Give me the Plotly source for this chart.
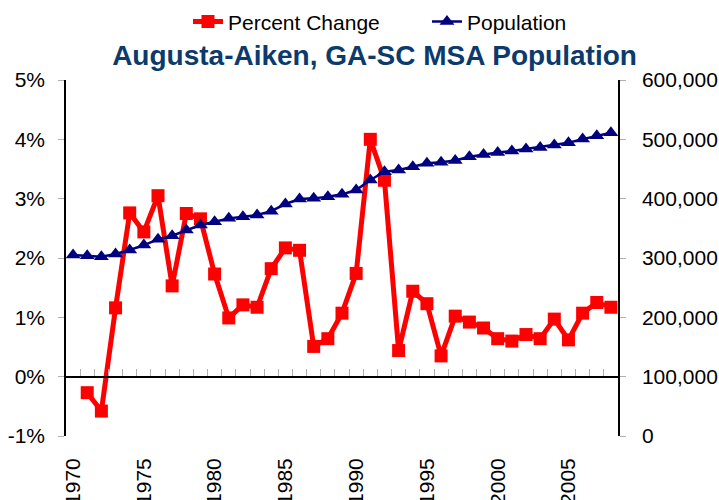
import plotly.graph_objects as go

years = list(range(1970, 2009))
pct_years = list(range(1971, 2009))
percent_change = [-0.27, -0.58, 1.16, 2.76, 2.44, 3.05, 1.53, 2.75, 2.66, 1.73,
                  0.99, 1.21, 1.17, 1.82, 2.17, 2.13, 0.51, 0.64, 1.07, 1.74,
                  4.00, 3.31, 0.44, 1.44, 1.23, 0.35, 1.02, 0.92, 0.82, 0.64,
                  0.60, 0.71, 0.64, 0.97, 0.62, 1.07, 1.25, 1.17]
population = [305000, 303800, 302100, 306700, 313400, 321800, 331400, 337500, 347100, 355500,
              361100, 366800, 369500, 372400, 379000, 391000, 399300, 400500, 403200, 407300,
              414500, 431400, 445400, 448200, 453800, 459500, 461200, 464500, 470600, 474600,
              478000, 480200, 483600, 486400, 490300, 494200, 500400, 506000, 511000]
left_ticks = [-1, 0, 1, 2, 3, 4, 5]
left_labels = ["-1%", "0%", "1%", "2%", "3%", "4%", "5%"]
label_years = [1970, 1975, 1980, 1985, 1990, 1995, 2000, 2005]
label_text = ["1970", "1975", "1980", "1985", "1990", "1995", "2000", "2005"]

FONT = "Liberation Sans, Arial, sans-serif"

fig = go.Figure()
fig.add_trace(go.Scatter(
    x=pct_years, y=percent_change, name="Percent Change", mode="lines+markers",
    line=dict(color="#ff0000", width=5),
    marker=dict(symbol="square", size=13, color="#ff0000"),
    xaxis="x", yaxis="y"))
fig.add_trace(go.Scatter(
    x=years, y=population, name="Population", mode="lines+markers",
    line=dict(color="#000080", width=2.5),
    marker=dict(symbol="triangle-up", size=13, color="#000080"),
    xaxis="x", yaxis="y2"))
# invisible trace so the label axis is drawn
fig.add_trace(go.Scatter(
    x=years[:1], y=[0], mode="markers", marker=dict(opacity=0),
    showlegend=False, hoverinfo="skip", xaxis="x2", yaxis="y"))

xr = [1969.5, 2008.5]
fig.update_layout(
    width=719, height=500,
    margin=dict(l=66, r=101, t=80, b=64, autoexpand=False),
    paper_bgcolor="white", plot_bgcolor="white",
    font=dict(family=FONT, size=21, color="black"),
    title=dict(text="<b>Augusta-Aiken, GA-SC MSA Population</b>",
               font=dict(family=FONT, size=28, color="#0b3a6b"),
               x=0.5209, xanchor="center", yref="container", y=0.89, yanchor="middle"),
    showlegend=True,
    legend=dict(orientation="h", x=0.221, xanchor="left", yref="paper", y=1.163,
                yanchor="middle", font=dict(family=FONT, size=21, color="black"),
                entrywidth=194, bgcolor="rgba(0,0,0,0)"),
    xaxis=dict(range=xr, anchor="free", position=1/6, showline=True, linecolor="black",
               linewidth=1.5, ticks="inside", tick0=1969.5, dtick=1, ticklen=7,
               tickcolor="#b0b0b0", showticklabels=False, showgrid=False, zeroline=False),
    xaxis2=dict(range=xr, overlaying="x", anchor="y", side="bottom", showline=False,
                ticks="", tickmode="array", tickvals=label_years, ticktext=label_text,
                tickangle=-90, ticklabelstandoff=17, showgrid=False, zeroline=False,
                automargin=False, tickfont=dict(size=21)),
    yaxis=dict(range=[-1, 5], tickmode="array", tickvals=left_ticks, ticktext=left_labels,
               showline=True, linecolor="black", linewidth=1.5, ticks="outside", ticklen=6,
               tickcolor="#b0b0b0", showgrid=False, zeroline=False, automargin=False,
               ticklabelstandoff=9),
    yaxis2=dict(range=[0, 600000], overlaying="y", side="right", anchor="x", dtick=100000,
                tickformat=",", showline=True, linecolor="black", linewidth=1.5,
                ticks="outside", ticklen=6, tickcolor="#b0b0b0", showgrid=False,
                zeroline=False, automargin=False, ticklabelstandoff=12),
)

fig.write_html("out.html", config={"displayModeBar": False},
               post_script="document.body.style.margin='0';document.body.style.overflow='hidden';")
